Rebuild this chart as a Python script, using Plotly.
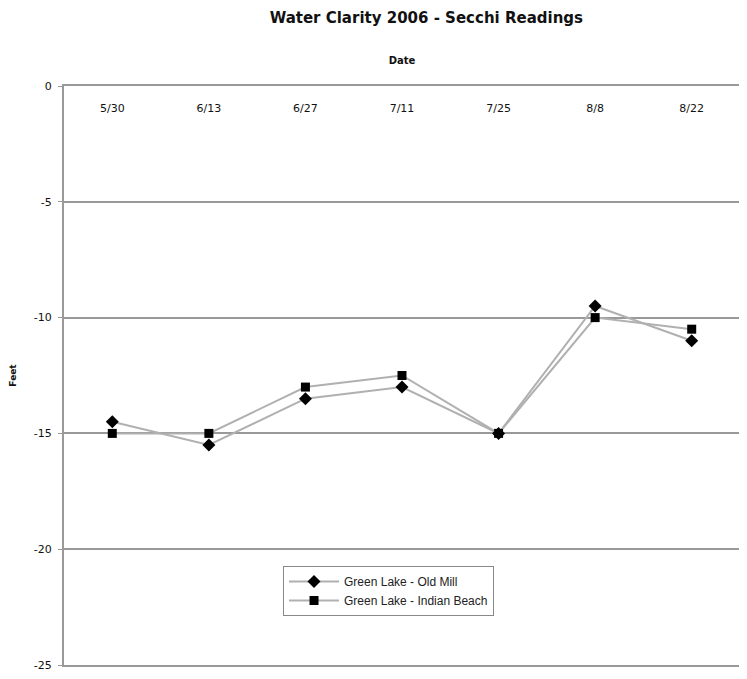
import plotly.graph_objects as go

dates = ["5/30", "6/13", "6/27", "7/11", "7/25", "8/8", "8/22"]
old_mill = [-14.5, -15.5, -13.5, -13.0, -15.0, -9.5, -11.0]
indian_beach = [-15.0, -15.0, -13.0, -12.5, -15.0, -10.0, -10.5]
y_ticks = [0, -5, -10, -15, -20, -25]

fig = go.Figure()
fig.add_trace(go.Scatter(
    x=dates, y=old_mill, name="Green Lake - Old Mill", mode="lines+markers",
    line=dict(color="#b0b0b0", width=2),
    marker=dict(symbol="diamond", size=10, color="black"),
))
fig.add_trace(go.Scatter(
    x=dates, y=indian_beach, name="Green Lake - Indian Beach", mode="lines+markers",
    line=dict(color="#b0b0b0", width=2),
    marker=dict(symbol="square", size=9, color="black"),
))

fig.update_layout(
    width=747, height=679,
    margin=dict(l=56, r=15, t=78, b=22, autoexpand=False),
    paper_bgcolor="white", plot_bgcolor="white",
    font=dict(family="DejaVu Sans, sans-serif", color="#111", size=11),
    title=dict(text="<b>Water Clarity 2006 - Secchi Readings</b>", x=0.56, xanchor="center",
               y=0.985, yanchor="middle", yref="container",
               font=dict(family="DejaVu Sans, sans-serif", size=15, color="#111")),
    showlegend=True,
    legend=dict(x=0.324, y=0.171, xanchor="left", yanchor="top",
                bgcolor="white", bordercolor="#888", borderwidth=1,
                font=dict(family="Liberation Sans, Arial, sans-serif", size=12, color="#222"),
                tracegroupgap=0, itemwidth=50),
)
fig.update_xaxes(
    type="category", side="top", range=[-0.5, 6.5], automargin=False,
    title=dict(text="<b>Date</b>", font=dict(size=10), standoff=35),
    ticklabelposition="outside", ticklabelstandoff=-32,
    ticks="", showgrid=False,
    showline=True, linecolor="#999", linewidth=2, mirror=True,
)
fig.update_yaxes(
    range=[-25, 0], tickvals=y_ticks, ticktext=[str(v) for v in y_ticks], automargin=False,
    title=dict(text="<b>Feet</b>", font=dict(size=9), standoff=24),
    showgrid=True, gridcolor="#999", gridwidth=1.5,
    ticks="outside", ticklen=4, tickcolor="#999", ticklabelstandoff=4,
    showline=True, linecolor="#999", linewidth=2, mirror=True,
    zeroline=False,
)

fig.write_html("out.html")
